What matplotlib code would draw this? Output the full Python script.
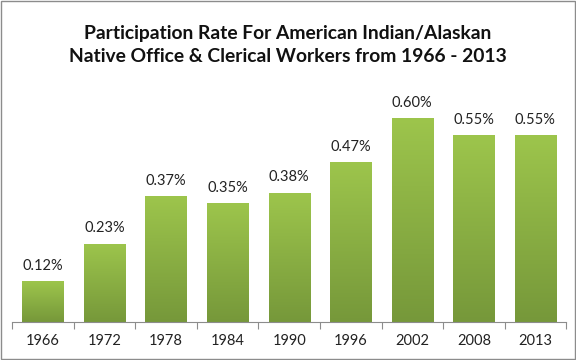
import numpy as np
import matplotlib.pyplot as plt
from matplotlib.patches import Rectangle
from matplotlib.colors import LinearSegmentedColormap

years = ['1966', '1972', '1978', '1984', '1990', '1996', '2002', '2008', '2013']
rates = [0.12, 0.23, 0.37, 0.35, 0.38, 0.47, 0.60, 0.55, 0.55]
labels = ['0.12%', '0.23%', '0.37%', '0.35%', '0.38%', '0.47%', '0.60%', '0.55%', '0.55%']

plt.rcParams['font.family'] = ['Lato', 'DejaVu Sans']

fig = plt.figure(figsize=(5.76, 3.6), dpi=100)
ax = fig.add_axes([0.021, 0.106, 0.962, 0.66])

# green gradient, light on top, darker at the base
cmap = LinearSegmentedColormap.from_list('grn', ['#76983a', '#9dc54c'])
grad = np.linspace(0, 1, 256).reshape(-1, 1)

x = np.arange(len(years))
bars = ax.bar(x, rates, width=0.67, color='none', edgecolor='none')
for b in bars:
    x0, w, h = b.get_x(), b.get_width(), b.get_height()
    im = ax.imshow(grad, cmap=cmap, origin='lower', aspect='auto',
                   extent=[x0, x0 + w, 0, h], zorder=2)
    im.set_clip_path(b)

for xi, r, lab in zip(x, rates, labels):
    ax.text(xi, r + 0.025, lab, ha='center', va='bottom', fontsize=10.5, color='#222222')

ax.set_xlim(-0.5, len(years) - 0.5)
ax.set_ylim(0, 0.7)
ax.set_xticks(x)
ax.set_xticklabels(years, fontsize=10.5, color='#222222')
ax.tick_params(axis='x', length=0, pad=9)
ax.set_xticks(np.arange(-0.5, len(years)), minor=True)
ax.tick_params(axis='x', which='minor', length=5, color='#8c8c8c', width=0.8)
ax.set_yticks([])
for s in ['top', 'right', 'left']:
    ax.spines[s].set_visible(False)
ax.spines['bottom'].set_color('#8c8c8c')
ax.spines['bottom'].set_linewidth(0.8)

fig.text(0.5, 0.875, 'Participation Rate For American Indian/Alaskan\nNative Office & Clerical Workers from 1966 - 2013',
         ha='center', va='center', fontsize=13.9, fontweight='bold', linespacing=1.45, color='#111111')

# outer frame
fig.patches.append(Rectangle((0.002, 0.003), 0.996, 0.994, transform=fig.transFigure,
                             fill=False, edgecolor='#8c8c8c', linewidth=1.0))

fig.savefig('out.png', dpi=100)
